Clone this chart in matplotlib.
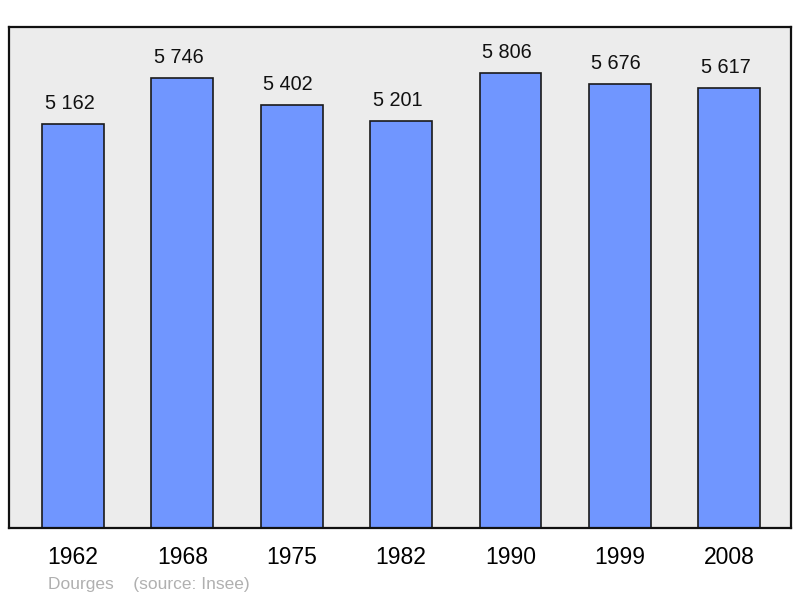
import matplotlib
matplotlib.use("Agg")
import matplotlib.pyplot as plt

plt.rcParams['font.family'] = ['Liberation Sans', 'DejaVu Sans']

years = ['1962', '1968', '1975', '1982', '1990', '1999', '2008']
population = [5162, 5746, 5402, 5201, 5806, 5676, 5617]
value_labels = ['5 162', '5 746', '5 402', '5 201', '5 806', '5 676', '5 617']

fig = plt.figure(figsize=(8, 5.98), dpi=100)
ax = fig.add_axes([9 / 800, 1 - 528 / 598, 782 / 800, 501 / 598])
ax.set_facecolor('#ececec')

x = list(range(len(years)))
bars = ax.bar(x, population, width=0.565, color='#7096ff',
              edgecolor='#1a1a1a', linewidth=1.2, zorder=2)

# value labels sit a bit left of the bar centre in the original
for xi, v, lab in zip(x, population, value_labels):
    ax.annotate(lab, (xi, v), xytext=(-2.5, 8), textcoords='offset points',
                ha='center', va='bottom', fontsize=14.3, color='#111111')

ax.set_xlim(-0.585, 6.565)
ax.set_ylim(0, 6400)
ax.set_yticks([])
ax.set_xticks(x)
ax.set_xticklabels(years, fontsize=16.5)
ax.tick_params(axis='x', length=0, pad=13)

for s in ax.spines.values():
    s.set_linewidth(1.6)
    s.set_color('#111111')

fig.text(48 / 800, 1 - 584 / 598, 'Dourges    (source: Insee)',
         fontsize=12.5, color='#b0b0b0', va='center', ha='left')

fig.savefig('out.png', dpi=100)
